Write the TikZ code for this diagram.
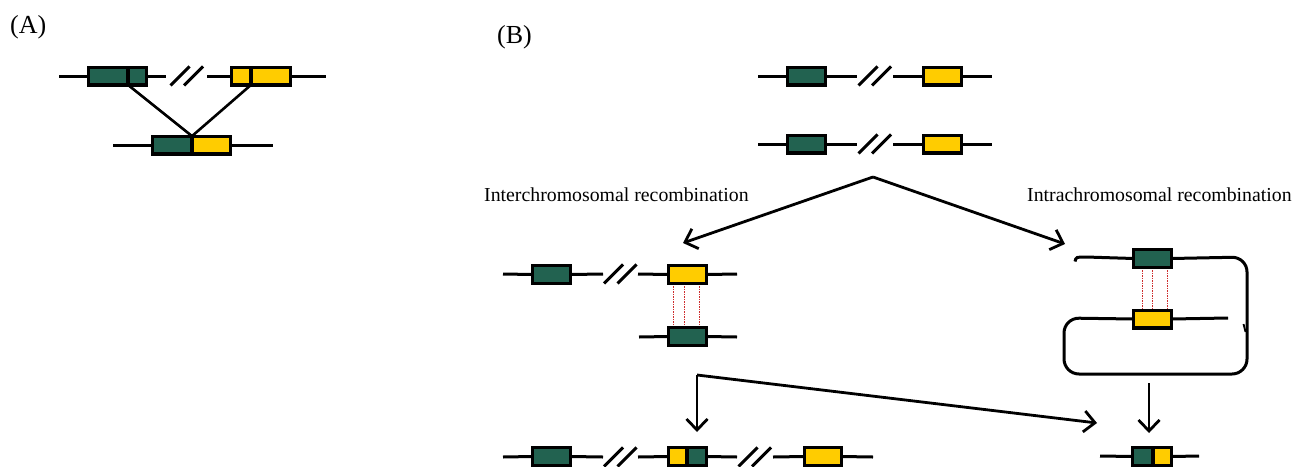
\documentclass[tikz,border=0pt]{standalone}
\usepackage{fontspec}
\setmainfont{Liberation Serif}
\usetikzlibrary{arrows.meta}
\definecolor{genegreen}{RGB}{34,98,80}
\definecolor{geneyellow}{RGB}{255,204,0}
\definecolor{pairred}{RGB}{205,45,45}
% name, fill colour, outer left x, outer right x, centre y
\newcommand\genebox[5]{%
  \pgfmathsetmacro\gbw{#4-#3-3.2}%
  \node[gene, fill=#2, minimum width=\gbw pt] (#1) at ({(#3+#4)/2},#5) {};}
\tikzset{
  gene/.style={draw, line width=3.2pt, minimum height=17.8pt, inner sep=0pt, outer sep=0pt},
  chrom/.style={line width=3pt},
  link/.style={line width=2.6pt},
  pairing/.style={draw=pairred, line width=0.8pt, dash pattern=on 1.5pt off 1pt},
  flow/.style={line width=2.8pt, -{Straight Barb[length=11pt,width=21pt,line width=2.8pt]}},
  brk/.pic={\draw[chrom] (-16.5,9.5) -- (2.5,-9.5); \draw[chrom] (-3,9.5) -- (16,-9.5);},
  lbl/.style={anchor=base west, inner sep=0pt, font=\fontsize{19.8}{24}\selectfont},
  panel/.style={anchor=base west, inner sep=0pt, font=\fontsize{26}{30}\selectfont}
}
\begin{document}
\begin{tikzpicture}[x=1pt,y=-1pt]
\useasboundingbox (0,0) rectangle (1300,466);

% ---------------- panel A ----------------
\node[panel] (labA) at (10,33) {(A)};
\genebox{a1l}{genegreen}{87}{129.6}{76}
\genebox{a1r}{genegreen}{126.4}{148}{76}
\genebox{a2l}{geneyellow}{230}{252.6}{76}
\genebox{a2r}{geneyellow}{249.4}{292}{76}
\genebox{a3l}{genegreen}{151}{193.6}{145}
\genebox{a3r}{geneyellow}{190.4}{232}{145}
\coordinate (a1s) at (59,76);
\coordinate (a1g) at (166,76);
\coordinate (a2s) at (207,76);
\coordinate (a2e) at (326,76);
\coordinate (a3s) at (113,145);
\coordinate (a3e) at (273,145);
\draw[chrom] (a1s) -- (a1l.west);
\draw[chrom] (a1r.east) -- (a1g);
\pic at (187,76) {brk};
\draw[chrom] (a2s) -- (a2l.west);
\draw[chrom] (a2r.east) -- (a2e);
\draw[chrom] (a3s) -- (a3l.west);
\draw[chrom] (a3r.east) -- (a3e);
\draw[link] (a1l.south east) -- (a3l.north east);
\draw[link] (a2l.south east) -- (a3l.north east);

% ---------------- panel B ----------------
\node[panel] (labB) at (497,43) {(B)};

% two homologous chromosomes
\foreach \r/\y in {1/76, 2/144}{
  \genebox{b\r g}{genegreen}{786}{827}{\y}
  \genebox{b\r y}{geneyellow}{922}{963}{\y}
  \coordinate (b\r s) at (758,\y);
  \coordinate (b\r m) at (857,\y);
  \coordinate (b\r n) at (893,\y);
  \coordinate (b\r e) at (992,\y);
  \draw[chrom] (b\r s) -- (b\r g.west);
  \draw[chrom] (b\r g.east) -- (b\r m);
  \pic at (875,\y) {brk};
  \draw[chrom] (b\r n) -- (b\r y.west);
  \draw[chrom] (b\r y.east) -- (b\r e);
}

% branching into the two pathways
\coordinate (fork) at (873,177);
\coordinate (inter) at (683,243);
\coordinate (intra) at (1065,244);
\draw[flow] (fork) -- (inter);
\draw[flow] (fork) -- (intra);
\node[lbl] (tinter) at (484,201) {Interchromosomal recombination};
\node[lbl] (tintra) at (1027,201) {Intrachromosomal recombination};

% interchromosomal pairing
\genebox{c1g}{genegreen}{531}{572}{274.5}
\genebox{c1y}{geneyellow}{667}{708}{274.5}
\genebox{c2g}{genegreen}{667}{708}{336.5}
\coordinate (c1s) at (503,274);
\coordinate (c1m) at (603,274);
\coordinate (c1n) at (638,274);
\coordinate (c1e) at (737,274);
\coordinate (c2s) at (639,337);
\coordinate (c2e) at (737,337);
\draw[chrom] (c1s) -- (c1g.west);
\draw[chrom] (c1g.east) -- (c1m);
\pic at (620.5,274) {brk};
\draw[chrom] (c1n) -- (c1y.west);
\draw[chrom] (c1y.east) -- (c1e);
\draw[chrom] (c2s) -- (c2g.west);
\draw[chrom] (c2g.east) -- (c2e);
\foreach \x in {673,684,699}
  \draw[pairing] (\x,286) -- (\x,325);

% intrachromosomal loop
\genebox{d1g}{genegreen}{1132}{1173}{258.5}
\genebox{d2y}{geneyellow}{1132}{1173}{319}
\coordinate (d1s) at (1075,261.5);
\coordinate (d2e) at (1228,318);
\draw[chrom] (d1s) .. controls (1076,257) .. (1086,257) -- (d1g.west);
\draw[chrom, rounded corners=15pt] (d1g.east) -- (1247,257) -- (1247,374)
  -- (1064,374) -- (1064,318) -- (d2y.west);
\draw[chrom] (d2y.east) -- (d2e);
\draw[line width=1.8pt] (1243.5,324) -- (1245.5,332);
\foreach \x in {1142,1152,1167}
  \draw[pairing] (\x,270) -- (\x,308);

% products
\coordinate (bend) at (697,375);
\coordinate (pinter) at (697,432);
\coordinate (pintra) at (1097,423);
\coordinate (loopout) at (1149,383);
\coordinate (pdel) at (1149,433);
\draw[flow] (bend) -- (pinter);
\draw[flow] (bend) -- (pintra);
\draw[flow] (loopout) -- (pdel);

% duplication product
\genebox{f1g}{genegreen}{531}{572}{456.5}
\genebox{f2y}{geneyellow}{667}{688.6}{456.5}
\genebox{f2g}{genegreen}{685.4}{708}{456.5}
\genebox{f3y}{geneyellow}{803}{843}{456.5}
\coordinate (f1s) at (503,457);
\coordinate (f1m) at (603,457);
\coordinate (f2s) at (638,457);
\coordinate (f2m) at (737,457);
\coordinate (f3s) at (773,457);
\coordinate (f3e) at (873,457);
\draw[chrom] (f1s) -- (f1g.west);
\draw[chrom] (f1g.east) -- (f1m);
\pic at (620.5,457) {brk};
\draw[chrom] (f2s) -- (f2y.west);
\draw[chrom] (f2g.east) -- (f2m);
\pic at (755,457) {brk};
\draw[chrom] (f3s) -- (f3y.west);
\draw[chrom] (f3y.east) -- (f3e);

% deletion product
\genebox{g1g}{genegreen}{1131}{1154.6}{456.5}
\genebox{g1y}{geneyellow}{1151.4}{1173}{456.5}
\coordinate (g1s) at (1100,456);
\coordinate (g1e) at (1199,456);
\draw[chrom] (g1s) -- (g1g.west);
\draw[chrom] (g1y.east) -- (g1e);
\end{tikzpicture}
\end{document}
